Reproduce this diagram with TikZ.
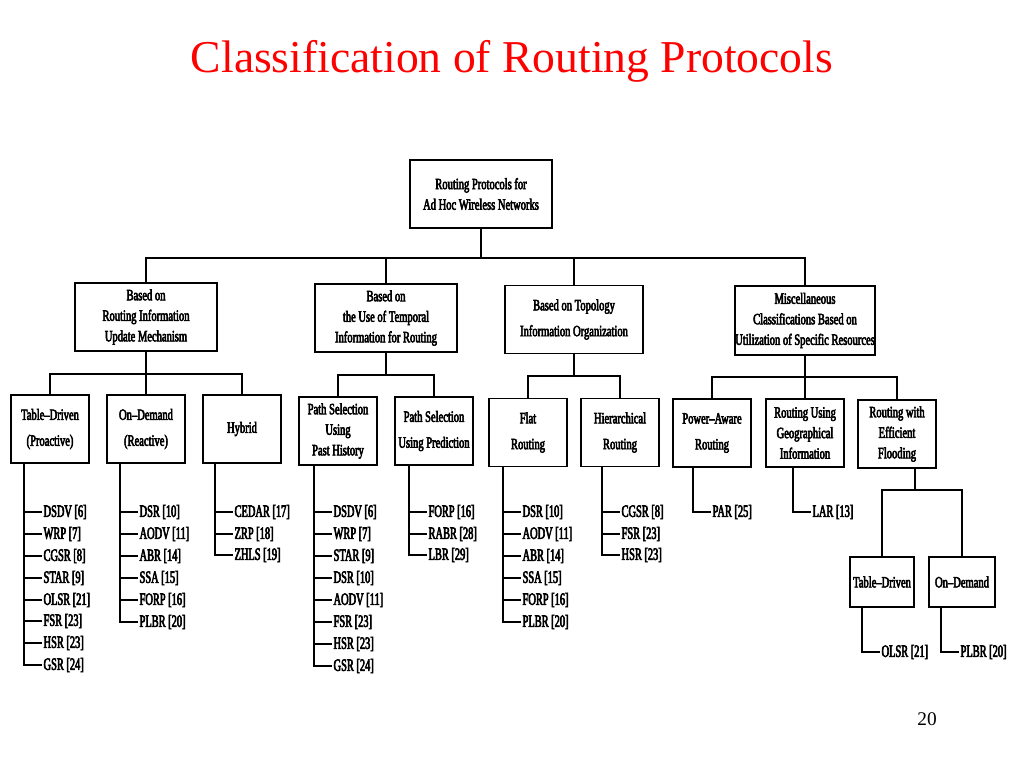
\documentclass[tikz,border=0pt]{standalone}
\usepackage{fontspec}
\setmainfont{Liberation Serif}
\newfontfamily\titlefont{Liberation Serif}
\newfontfamily\scanfont[FakeStretch=0.67,FakeBold=3.5]{Liberation Serif}
\newfontfamily\listfont[FakeStretch=0.6,FakeBold=3.5]{Liberation Serif}
\usepackage{tikz}

\tikzset{
  catbox/.style={draw, line width=1.3pt, align=center, inner sep=0pt, minimum width=107pt, minimum height=51pt, font=\scanfont\fontsize{11.8}{15.4}\selectfont},
  subbox/.style={catbox, minimum width=59pt, minimum height=51pt},
  leafbox/.style={catbox, minimum width=48pt, minimum height=37pt},
  proto/.style={anchor=west, inner sep=1pt, font=\listfont\fontsize{13}{15}\selectfont},
  wire/.style={line width=1.3pt}
}

\begin{document}
\begin{tikzpicture}[x=0.75pt,y=0.75pt,yscale=-1,xscale=1]
\useasboundingbox (0,0) rectangle (1024,768);

% Text Node
\node [anchor=base, text=red, font=\titlefont\fontsize{34.2}{40}\selectfont] (title) at (512,72) {Classification of Routing Protocols};
% Text Node
\node [anchor=base, font=\titlefont\fontsize{14.5}{17}\selectfont] (page) at (927,725) {20};

%Shape: Rectangle
\node [catbox] (root) at (481,194) {Routing Protocols for\\ Ad Hoc Wireless Networks};
\node [catbox] (upd) at (146,317) {Based on\\ Routing Information\\ Update Mechanism};
\node [catbox] (tmp) at (386,318) {Based on\\ the Use of Temporal\\ Information for Routing};
\node [catbox, minimum width=104pt] (topo) at (574,319.5) {Based on Topology\\[4pt] Information Organization};
\node [catbox, minimum width=104pt, minimum height=52pt] (misc) at (805,320.5) {Miscellaneous\\ Classifications Based on\\ Utilization of Specific Resources};

%Shape: Rectangle
\node [subbox] (td) at (50,429) {Table–Driven\\[4pt] (Proactive)};
\node [subbox] (od) at (146,429) {On–Demand\\[4pt] (Reactive)};
\node [subbox] (hy) at (242,429) {Hybrid};
\node [subbox] (ph) at (338,431) {Path Selection\\ Using\\ Past History};
\node [subbox] (pp) at (434,431) {Path Selection\\[4pt] Using Prediction};
\node [subbox] (fl) at (528,432.5) {Flat\\[4pt] Routing};
\node [subbox] (hi) at (620,432.5) {Hierarchical\\[4pt] Routing};
\node [subbox] (pw) at (712,433) {Power–Aware\\[4pt] Routing};
\node [subbox] (ge) at (805,433) {Routing Using\\ Geographical\\ Information};
\node [subbox] (fd) at (897,434) {Routing with\\ Efficient\\ Flooding};
\node [leafbox] (ftd) at (882,582) {Table–Driven};
\node [leafbox, minimum width=49pt, minimum height=38pt] (fod) at (962,582) {On–Demand};

%Straight Lines
\coordinate (bus0) at (481,258);
\draw [wire] (root.south) -- (bus0);
\draw [wire] (upd.north) |- (bus0) -| (misc.north);
\draw [wire] (tmp.north) -- (tmp.north |- bus0);
\draw [wire] (topo.north) -- (topo.north |- bus0);

%Straight Lines
\coordinate (bus1) at (146,374);
\draw [wire] (upd.south) -- (bus1);
\draw [wire] (td.north) |- (bus1) -| (hy.north);
\draw [wire] (od.north) -- (bus1);
\coordinate (bus2) at (386,375);
\draw [wire] (tmp.south) -- (bus2);
\draw [wire] (ph.north) |- (bus2) -| (pp.north);
\coordinate (bus3) at (574,376);
\draw [wire] (topo.south) -- (bus3);
\draw [wire] (fl.north) |- (bus3) -| (hi.north);
\coordinate (bus4) at (805,377);
\draw [wire] (misc.south) -- (bus4);
\draw [wire] (pw.north) |- (bus4) -| (fd.north);
\draw [wire] (ge.north) -- (bus4);
\coordinate (bus5) at (915,490);
\draw [wire] (fd.south -| bus5) -- (bus5);
\draw [wire] (ftd.north) |- (bus5) -| (fod.north);

% Text Node
\node [proto] (td1) at (42,512) {DSDV [6]};
\node [proto] (td2) at (42,534) {WRP [7]};
\node [proto] (td3) at (42,556) {CGSR [8]};
\node [proto] (td4) at (42,578) {STAR [9]};
\node [proto] (td5) at (42,600) {OLSR [21]};
\node [proto] (td6) at (42,621) {FSR [23]};
\node [proto] (td7) at (42,643) {HSR [23]};
\node [proto] (td8) at (42,665) {GSR [24]};
\coordinate (tdS) at (24,463);
\draw [wire] (td.south -| tdS) |- (td8.west)
  (tdS |- td1.west) -- (td1.west) (tdS |- td2.west) -- (td2.west)
  (tdS |- td3.west) -- (td3.west) (tdS |- td4.west) -- (td4.west)
  (tdS |- td5.west) -- (td5.west) (tdS |- td6.west) -- (td6.west)
  (tdS |- td7.west) -- (td7.west);

% Text Node
\node [proto] (od1) at (138,512) {DSR [10]};
\node [proto] (od2) at (138,534) {AODV [11]};
\node [proto] (od3) at (138,556) {ABR [14]};
\node [proto] (od4) at (138,578) {SSA [15]};
\node [proto] (od5) at (138,600) {FORP [16]};
\node [proto] (od6) at (138,622) {PLBR [20]};
\coordinate (odS) at (120,463);
\draw [wire] (od.south -| odS) |- (od6.west)
  (odS |- od1.west) -- (od1.west) (odS |- od2.west) -- (od2.west)
  (odS |- od3.west) -- (od3.west) (odS |- od4.west) -- (od4.west)
  (odS |- od5.west) -- (od5.west);

% Text Node
\node [proto] (hy1) at (233,512) {CEDAR [17]};
\node [proto] (hy2) at (233,534) {ZRP [18]};
\node [proto] (hy3) at (233,555) {ZHLS [19]};
\coordinate (hyS) at (215,463);
\draw [wire] (hy.south -| hyS) |- (hy3.west)
  (hyS |- hy1.west) -- (hy1.west) (hyS |- hy2.west) -- (hy2.west);

% Text Node
\node [proto] (ph1) at (332,512) {DSDV [6]};
\node [proto] (ph2) at (332,534) {WRP [7]};
\node [proto] (ph3) at (332,556) {STAR [9]};
\node [proto] (ph4) at (332,578) {DSR [10]};
\node [proto] (ph5) at (332,600) {AODV [11]};
\node [proto] (ph6) at (332,622) {FSR [23]};
\node [proto] (ph7) at (332,644) {HSR [23]};
\node [proto] (ph8) at (332,666) {GSR [24]};
\coordinate (phS) at (314,465);
\draw [wire] (ph.south -| phS) |- (ph8.west)
  (phS |- ph1.west) -- (ph1.west) (phS |- ph2.west) -- (ph2.west)
  (phS |- ph3.west) -- (ph3.west) (phS |- ph4.west) -- (ph4.west)
  (phS |- ph5.west) -- (ph5.west) (phS |- ph6.west) -- (ph6.west)
  (phS |- ph7.west) -- (ph7.west);

% Text Node
\node [proto] (pp1) at (427,512) {FORP [16]};
\node [proto] (pp2) at (427,534) {RABR [28]};
\node [proto] (pp3) at (427,555) {LBR [29]};
\coordinate (ppS) at (409,465);
\draw [wire] (pp.south -| ppS) |- (pp3.west)
  (ppS |- pp1.west) -- (pp1.west) (ppS |- pp2.west) -- (pp2.west);

% Text Node
\node [proto] (fl1) at (521,512) {DSR [10]};
\node [proto] (fl2) at (521,534) {AODV [11]};
\node [proto] (fl3) at (521,556) {ABR [14]};
\node [proto] (fl4) at (521,578) {SSA [15]};
\node [proto] (fl5) at (521,600) {FORP [16]};
\node [proto] (fl6) at (521,622) {PLBR [20]};
\coordinate (flS) at (503,467);
\draw [wire] (fl.south -| flS) |- (fl6.west)
  (flS |- fl1.west) -- (fl1.west) (flS |- fl2.west) -- (fl2.west)
  (flS |- fl3.west) -- (fl3.west) (flS |- fl4.west) -- (fl4.west)
  (flS |- fl5.west) -- (fl5.west);

% Text Node
\node [proto] (hi1) at (620,512) {CGSR [8]};
\node [proto] (hi2) at (620,534) {FSR [23]};
\node [proto] (hi3) at (620,555) {HSR [23]};
\coordinate (hiS) at (602,467);
\draw [wire] (hi.south -| hiS) |- (hi3.west)
  (hiS |- hi1.west) -- (hi1.west) (hiS |- hi2.west) -- (hi2.west);

% Text Node
\node [proto] (pw1) at (711,512) {PAR [25]};
\coordinate (pwS) at (693,467);
\draw [wire] (pw.south -| pwS) |- (pw1.west);
\node [proto] (ge1) at (811,512) {LAR [13]};
\coordinate (geS) at (793,467);
\draw [wire] (ge.south -| geS) |- (ge1.west);

% Text Node
\node [proto] (ftd1) at (880,652) {OLSR [21]};
\coordinate (ftdS) at (862,600);
\draw [wire] (ftd.south -| ftdS) |- (ftd1.west);
\node [proto] (fod1) at (959,652) {PLBR [20]};
\coordinate (fodS) at (941,600);
\draw [wire] (fod.south -| fodS) |- (fod1.west);
\end{tikzpicture}
\end{document}
